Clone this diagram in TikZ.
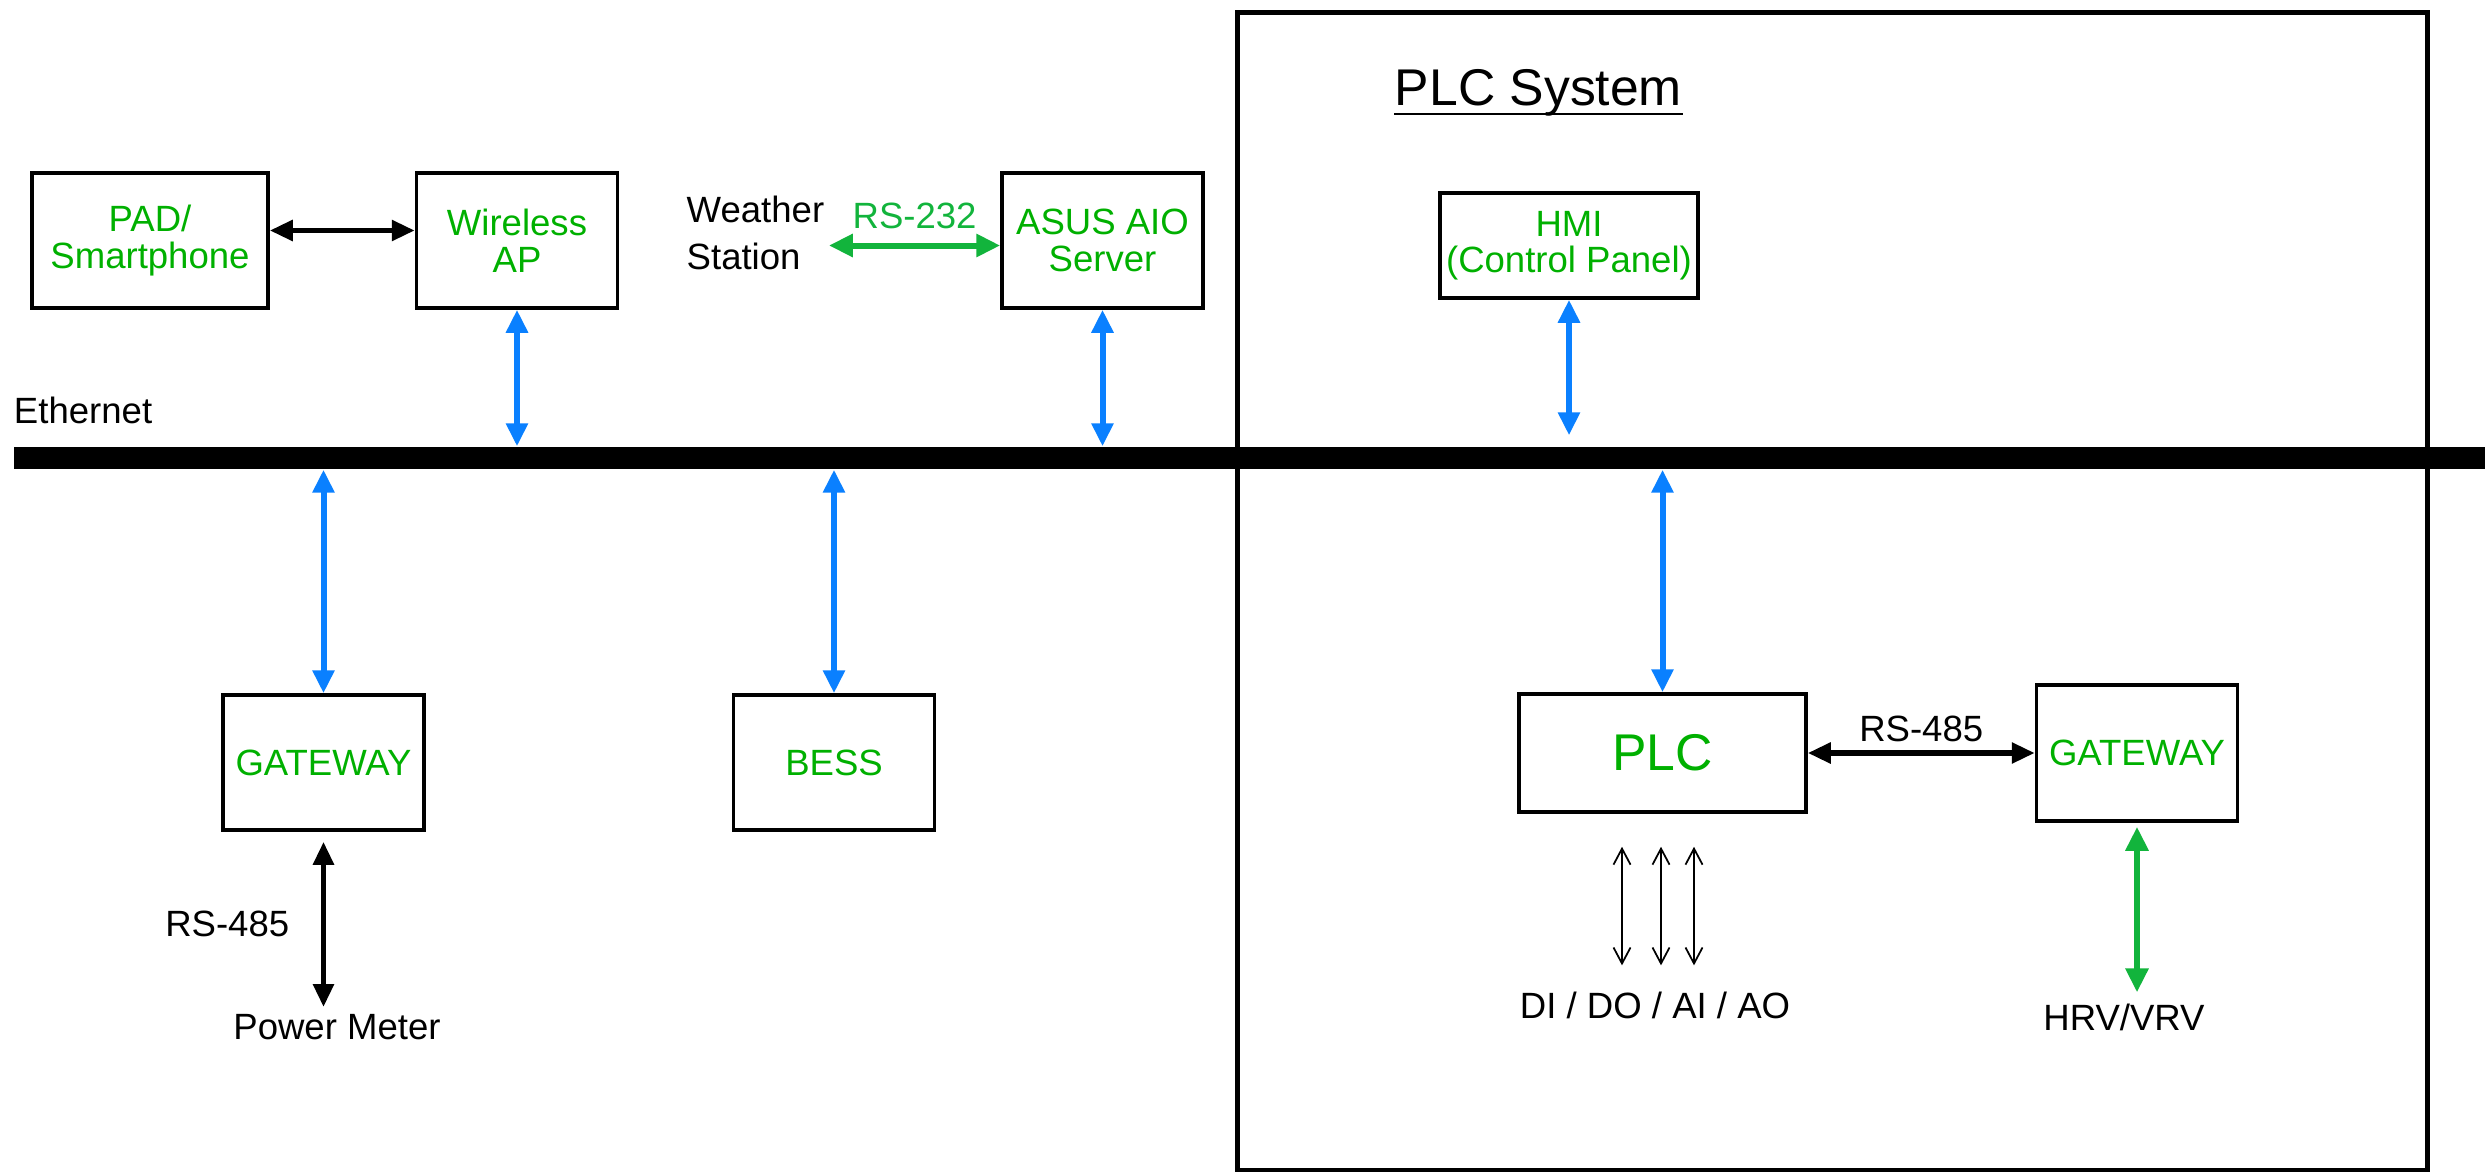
\documentclass[tikz,border=0pt]{standalone}
\usepackage{fontspec}
\setmainfont{Liberation Sans}
\usetikzlibrary{positioning,arrows.meta}
\definecolor{boxgreen}{HTML}{00B000}
\definecolor{linkgreen}{HTML}{12B43C}
\definecolor{ethblue}{HTML}{0A80FF}

\begin{document}
\begin{tikzpicture}[
      font=\fontsize{10.4}{10.4}\selectfont,
      dev/.style={draw, line width=0.035cm, minimum width=2.01cm, minimum height=1.35cm,
                  align=center, text=boxgreen, inner sep=1pt},
      bus/.style={fill=black, minimum width=24.71cm, minimum height=0.22cm, inner sep=0pt},
      sysframe/.style={draw, line width=0.05cm, minimum width=11.9cm, minimum height=11.57cm},
      eth/.style={{Triangle[length=2.3mm,width=2.1mm]}-{Triangle[length=2.3mm,width=2.1mm]},
                  line width=0.06cm, ethblue},
      serial/.style={{Triangle[length=2.3mm,width=2mm]}-{Triangle[length=2.3mm,width=2mm]},
                     line width=0.055cm, black},
      glink/.style={{Triangle[length=2.4mm,width=2.2mm]}-{Triangle[length=2.4mm,width=2.2mm]},
                    line width=0.06cm, linkgreen},
      io/.style={{Straight Barb[length=1.6mm,width=1.7mm]}-{Straight Barb[length=1.6mm,width=1.7mm]},
                 line width=0.5pt},
      lbl/.style={inner sep=1pt},
      big/.style={font=\fontsize{14.7}{14.7}\selectfont}
    ]
    \useasboundingbox (0,0) rectangle (24.85,-11.72);

    \node[sysframe] (plcsys) at (18.32,-5.915) {};
    \node[big, anchor=base, inner sep=0pt] (title) at (15.385,-1.05) {PLC System};
    \draw[line width=0.75pt] ([yshift=-0.9mm]title.base west) -- ([yshift=-0.9mm]title.base east);

    \node[bus] (ether) at (12.495,-4.58) {};
    \node[lbl, anchor=south west, inner sep=0pt] (ethlbl) at ([yshift=2.2mm]ether.north west) {Ethernet};

    \node[dev, minimum width=2.36cm] (pad) at (1.50,-2.405) {PAD/\\Smartphone};
    \node[dev, right=1.45cm of pad] (ap) {Wireless\\AP};
    \node[dev, right=3.81cm of ap] (asus) {ASUS AIO\\Server};
    \node[anchor=west, inner sep=0pt, align=left, font=\fontsize{10.4}{13.6}\selectfont]
      (weather) at (6.86,-2.33) {Weather\\Station};
    \node[dev, minimum width=2.58cm, minimum height=1.05cm] (hmi) at (15.69,-2.455)
      {HMI\\(Control Panel)};

    \node[dev] (gw1) at (3.235,-7.625) {GATEWAY};
    \node[dev, right=3.06cm of gw1] (bess) {BESS};
    \node[dev, big, minimum width=2.87cm, minimum height=1.18cm] (plc) at (16.625,-7.53) {PLC};
    \node[dev, minimum height=1.36cm, right=2.27cm of plc] (gw2) {GATEWAY};

    \node[lbl] (pm) at (3.37,-10.27) {Power Meter};
    \node[lbl] (dio) at (16.55,-10.05) {DI / DO / AI / AO};
    \node[lbl] (hrv) at (21.24,-10.17) {HRV/VRV};

    \draw[serial] ([yshift=1mm]pad.east) -- ([yshift=1mm]ap.west);
    \draw[glink] ([yshift=-0.5mm]asus.west) -- ([yshift=-0.5mm, xshift=0.4mm]asus.west -| weather.east)
      node[midway, above=1mm, lbl, text=linkgreen] {RS-232};

    \draw[eth] (ap.south) -- (ap.south |- ether.north);
    \draw[eth] (asus.south) -- (asus.south |- ether.north);
    \draw[eth, shorten >=1.1mm] (hmi.south) -- (hmi.south |- ether.north);
    \draw[eth] (ether.south -| gw1.north) -- (gw1.north);
    \draw[eth] (ether.south -| bess.north) -- (bess.north);
    \draw[eth] (ether.south -| plc.north) -- (plc.north);

    \draw[serial] (plc.east) -- (gw2.west) node[midway, above=0.45mm, lbl] {RS-485};
    \draw[serial] ([yshift=-1mm]gw1.south) -- ([yshift=0.3mm]gw1.south |- pm.north)
      node[midway, left=2.8mm, lbl] {RS-485};
    \draw[glink] ([yshift=-0.4mm]gw2.south) -- ([yshift=0.7mm]gw2.south |- hrv.north);

    \foreach \dx in {-0.405,-0.015,0.315}
      \draw[io, shorten <=3.3mm, shorten >=2.2mm] ([xshift=\dx cm]plc.south) -- ([xshift=\dx cm]plc.south |- dio.north);

  \end{tikzpicture}
\end{document}
